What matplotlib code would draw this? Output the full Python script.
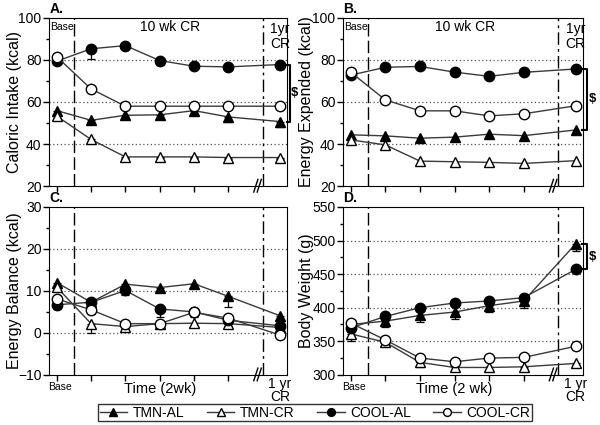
#!/usr/bin/env python3
import numpy as np
import matplotlib
matplotlib.use("Agg")
import matplotlib.pyplot as plt
import matplotlib.transforms as mtransforms

plt.rcParams['font.family'] = ['Liberation Sans', 'DejaVu Sans']

# time axis: baseline, 5 two-week points, then 1 yr (after the axis break)
time_pos = [0, 1, 2, 3, 4, 5, 6.5]

# A. caloric intake (kcal)
intake_tmn_al = [55.9, 51.3, 53.7, 53.9, 55.9, 52.9, 50.7]
intake_tmn_cr = [53.3, 42.2, 33.9, 33.9, 33.9, 33.6, 33.6]
intake_cool_al = [79.4, 85.3, 86.8, 79.7, 77.0, 76.7, 77.8]
intake_cool_cr = [81.5, 66.2, 58.0, 58.0, 58.0, 58.0, 58.0]
intake_err_tmn_al = [1.5, 1.0, 1.0, 1.5, 1.0, 2.5, 2.5]
intake_err_tmn_cr = [1.0, 1.0, 0.5, 0.5, 0.5, 0.5, 0.5]
intake_err_cool_al = [1.5, 5.0, 1.0, 2.0, 1.0, 1.0, 2.0]
intake_err_cool_cr = [1.0, 1.0, 0.5, 0.5, 0.5, 0.5, 0.5]

# B. energy expended (kcal)
expend_tmn_al = [44.4, 43.9, 42.8, 43.3, 44.7, 44.0, 46.7]
expend_tmn_cr = [42.0, 39.6, 31.9, 31.6, 31.3, 30.8, 32.1]
expend_cool_al = [72.8, 76.5, 76.9, 74.2, 72.2, 74.1, 75.7]
expend_cool_cr = [74.1, 61.0, 55.8, 55.8, 53.4, 54.4, 58.2]

# C. energy balance (kcal)
balance_tmn_al = [12.0, 7.3, 11.6, 10.8, 11.7, 8.7, 4.1]
balance_tmn_cr = [10.9, 2.2, 1.5, 2.2, 2.3, 2.2, 1.3]
balance_cool_al = [6.7, 7.3, 10.1, 5.7, 5.0, 3.0, 1.7]
balance_cool_cr = [8.1, 5.5, 2.2, 2.2, 4.9, 3.5, -0.5]
balance_err_tmn_al = [1.0, 1.0, 1.0, 1.0, 1.0, 2.5, 1.0]
balance_err_tmn_cr = [1.0, 2.3, 0.5, 0.5, 1.0, 0.5, 0.5]
balance_err_cool_al = [1.0, 1.0, 1.0, 2.0, 1.0, 1.5, 1.0]
balance_err_cool_cr = [1.0, 1.0, 0.5, 0.5, 1.0, 1.0, 0.5]

# D. body weight (g)
weight_tmn_al = [375, 380, 388.5, 393.5, 403, 410, 495]
weight_tmn_cr = [361, 348.5, 318.5, 311, 311, 312, 317]
weight_cool_al = [370, 387, 400, 407, 410, 415, 457]
weight_cool_cr = [377, 352, 325, 319.5, 325, 326, 342.5]
weight_err_tmn_al = [10, 8, 10, 10, 10, 10, 10]
weight_err_tmn_cr = [10, 5, 7, 5, 5, 3, 3]
weight_err_cool_al = [6, 5, 5, 4, 4, 5, 4]
weight_err_cool_cr = [5, 5, 4, 4, 4, 4, 3]

group_names = ["TMN-AL", "TMN-CR", "COOL-AL", "COOL-CR"]
group_markers = ["^", "^", "o", "o"]
group_faces = ["black", "white", "black", "white"]

LINE_COL = "#3a3a3a"


def draw_series(ax, series, errs=None):
    handles = []
    for i, y in enumerate(series):
        if errs is not None:
            ax.errorbar(time_pos, y, yerr=[errs[i], np.zeros(len(y))],
                        fmt="none", ecolor="black", elinewidth=0.9,
                        capsize=3, capthick=0.9, zorder=2)
        h, = ax.plot(time_pos, y, color=LINE_COL, lw=1.0,
                     marker=group_markers[i], ms=7.5,
                     mfc=group_faces[i], mec="black", mew=1.0, zorder=3)
        handles.append(h)
    return handles


def style_axes(ax, ylim, major, minor, grid_vals, label, label_x):
    ax.set_xlim(-0.22, 6.72)
    ax.set_ylim(*ylim)
    ax.set_yticks(major)
    ax.set_yticks(minor, minor=True)
    ax.set_xticks([0, 1, 2, 3, 4, 5])
    ax.set_xticklabels([])
    ax.tick_params(direction="out", length=4, width=1, labelsize=10, pad=1.5)
    ax.tick_params(which="minor", direction="out", length=2.5, width=1)
    for g in grid_vals:
        ax.axhline(g, color="#555555", lw=0.9, ls=(0, (1, 2)), zorder=1)
    ax.axvline(0.5, color="black", lw=1.0, ls=(0, (9, 3)), zorder=1)
    ax.axvline(6.0, color="black", lw=1.0, ls=(0, (9, 3, 2, 3)), zorder=1)
    ax.set_ylabel(label, fontsize=11.5)
    ax.yaxis.set_label_coords(label_x, 0.5)
    # axis break marks
    tr = mtransforms.blended_transform_factory(ax.transData, ax.transAxes)
    for xb in (5.80, 5.90):
        ax.plot([xb - 0.06, xb + 0.06], [-0.035, 0.04], color="black",
                lw=1.0, transform=tr, clip_on=False, zorder=5)


def bracket(ax, x, y_top, y_bot, xtext, w=0.14):
    ax.plot([x - w, x, x, x - w], [y_top, y_top, y_bot, y_bot],
            color="black", lw=1.5, clip_on=False, solid_joinstyle="round")
    ax.text(xtext, (y_top + y_bot) / 2, "$", fontsize=9.5, fontweight="bold",
            ha="center", va="center", clip_on=False)


fig = plt.figure(figsize=(6, 4.25), dpi=100)
axA = fig.add_axes([0.082, 0.562, 0.397, 0.396])
axB = fig.add_axes([0.572, 0.562, 0.400, 0.396])
axC = fig.add_axes([0.082, 0.118, 0.397, 0.395])
axD = fig.add_axes([0.572, 0.118, 0.400, 0.395])

handles = draw_series(axA, [intake_tmn_al, intake_tmn_cr, intake_cool_al, intake_cool_cr],
                      [intake_err_tmn_al, intake_err_tmn_cr, intake_err_cool_al, intake_err_cool_cr])
style_axes(axA, (20, 100), [20, 40, 60, 80, 100], np.arange(30, 100, 20), [40, 60, 80],
           "Caloric Intake (kcal)", -0.115)

draw_series(axB, [expend_tmn_al, expend_tmn_cr, expend_cool_al, expend_cool_cr])
style_axes(axB, (20, 100), [20, 40, 60, 80, 100], np.arange(30, 100, 20), [40, 60, 80],
           "Energy Expended (kcal)", -0.12)

draw_series(axC, [balance_tmn_al, balance_tmn_cr, balance_cool_al, balance_cool_cr],
            [balance_err_tmn_al, balance_err_tmn_cr, balance_err_cool_al, balance_err_cool_cr])
style_axes(axC, (-10, 30), [-10, 0, 10, 20, 30], np.arange(-5, 30, 10), [0, 10, 20],
           "Energy Balance (kcal)", -0.115)

draw_series(axD, [weight_tmn_al, weight_tmn_cr, weight_cool_al, weight_cool_cr],
            [weight_err_tmn_al, weight_err_tmn_cr, weight_err_cool_al, weight_err_cool_cr])
style_axes(axD, (300, 550), [300, 350, 400, 450, 500, 550], np.arange(325, 550, 50),
           [350, 400, 450, 500], "Body Weight (g)", -0.122)

# panel letters
for ax, letter in zip([axA, axB, axC, axD], ["A.", "B.", "C.", "D."]):
    ax.text(0.0, 1.01, letter, transform=ax.transAxes, fontsize=10,
            fontweight="bold", ha="left", va="bottom")

# top annotations on A and B
for ax in (axA, axB):
    ax.text(0.15, 95.5, "Base", fontsize=7.5, ha="center", va="center")
    ax.text(3.3, 95.5, "10 wk CR", fontsize=10, ha="center", va="center")
    ax.text(6.5, 98.0, "1yr\nCR", fontsize=10, ha="center", va="top",
            linespacing=1.05)

# x labels on C and D
for ax, tlabel in ((axC, "Time (2wk)"), (axD, "Time (2 wk)")):
    tr = mtransforms.blended_transform_factory(ax.transData, ax.transAxes)
    ax.text(0.1, -0.045, "Base", fontsize=7.5, ha="center", va="top", transform=tr)
    ax.text(3.0, -0.04, tlabel, fontsize=10.5, ha="center", va="top", transform=tr)
    ax.text(6.5, -0.012, "1 yr\nCR", fontsize=10, ha="center", va="top",
            transform=tr, linespacing=0.95)

# significance brackets
bracket(axA, 6.80, intake_cool_al[-1], intake_tmn_al[-1], 6.92, w=0.1)
bracket(axB, 6.82, expend_cool_al[-1], expend_tmn_al[-1], 6.99)
bracket(axD, 6.82, weight_tmn_al[-1], weight_cool_al[-1], 6.99)

leg = fig.legend(handles, group_names, loc="center", ncol=4,
                 bbox_to_anchor=(0.525, 0.029), fontsize=10, frameon=True,
                 fancybox=False, edgecolor="black", handlelength=2.0,
                 handletextpad=0.4, columnspacing=1.6, borderpad=0.1,
                 borderaxespad=0.0, markerscale=0.75)
leg.get_frame().set_linewidth(1.0)

fig.savefig("out.png", dpi=100)
